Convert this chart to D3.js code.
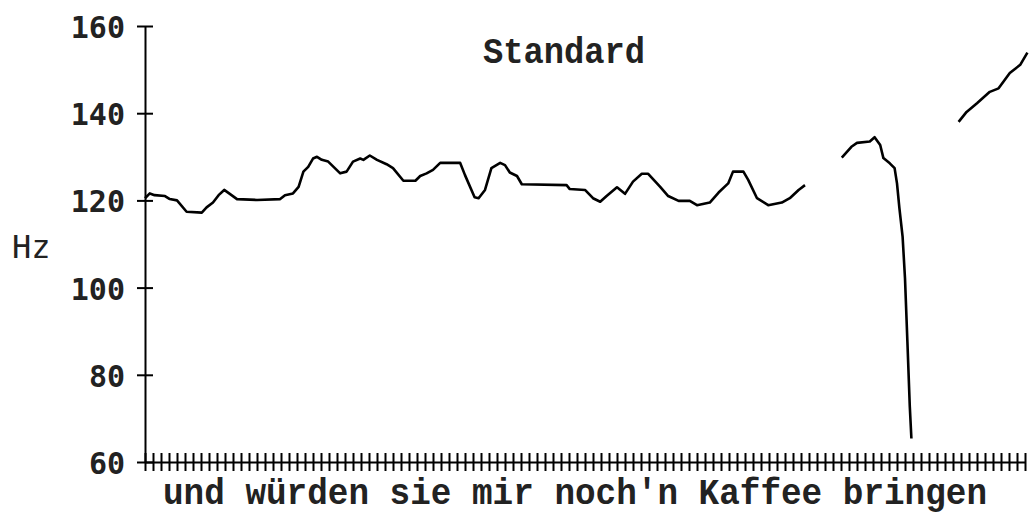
<!DOCTYPE html>
<html>
<head>
<meta charset="utf-8">
<script src="https://cdn.jsdelivr.net/npm/d3@7"></script>
<style>
  body { margin: 0; background: #fff; }
</style>
</head>
<body>
<div id="chart"></div>
<script>
// Grundfrequenz (Hz) ueber Zeit (ms), drei stimmhafte Abschnitte
const seg1Time = [0, 6, 12, 25, 31, 40, 52, 71, 77, 85, 92, 99, 106, 115, 140, 169, 175, 185, 192, 198,
  204, 210, 215, 221, 229, 244, 252, 260, 269, 273, 281, 290, 302, 310, 323, 338, 344, 352, 360, 369,
  394, 400, 412, 417, 425, 433, 444, 450, 456, 465, 471, 527, 531, 550, 560, 569, 577, 590, 600, 610,
  621, 629, 644, 654, 667, 681, 690, 706, 717, 729, 735, 748, 754, 765, 779, 796, 806, 817, 825];
const seg1Hz = [120.5, 121.6, 121.2, 121, 120.3, 120, 117.4, 117.2, 118.4, 119.5, 121.2, 122.4, 121.5, 120.3, 120.1, 120.3, 121.2, 121.6, 123.1, 126.6,
  127.7, 129.6, 130, 129.3, 128.9, 126.2, 126.6, 128.9, 129.6, 129.3, 130.3, 129.3, 128.3, 127.4, 124.5, 124.5, 125.6, 126.2, 127, 128.6,
  128.6, 125.8, 120.7, 120.5, 122.4, 127.4, 128.6, 128.1, 126.4, 125.6, 123.7, 123.5, 122.6, 122.4, 120.5, 119.7, 121, 123, 121.5, 124.3,
  126.1, 126.1, 123.1, 121, 119.9, 119.9, 118.9, 119.5, 121.8, 123.9, 126.6, 126.6, 124.7, 120.5, 118.9, 119.5, 120.5, 122.4, 123.5];

const seg2Time = [871, 883, 890, 906, 912, 919, 923, 931, 937, 940, 943, 947, 950, 953, 956, 958];
const seg2Hz = [129.8, 132.3, 133.2, 133.5, 134.5, 132.7, 129.7, 128.5, 127.4, 123.9, 118.2, 111.7, 102.1, 87.6, 72.7, 65.4];

const seg3Time = [1017, 1027, 1040, 1056, 1067, 1081, 1094, 1103];
const seg3Hz = [138, 140.3, 142.3, 144.9, 145.7, 149.2, 151.1, 153.9];

const yTicks = [60, 80, 100, 120, 140, 160];
const frameTicks = d3.range(0, 1101, 10);

const title = "Standard";
const yLabel = "Hz";
const sentence = "und würden sie mir noch'n Kaffee bringen";

const width = 1030, height = 515;
const margin = { top: 26, right: 5, bottom: 53, left: 145 };

const svg = d3.select('#chart')
  .append('svg')
  .attr('width', width)
  .attr('height', height);

const x = d3.scaleLinear()
  .domain([0, 1100])
  .range([margin.left, width - margin.right]);

const y = d3.scaleLinear()
  .domain([60, 160])
  .range([height - margin.bottom, margin.top]);

// y-Achse, Striche nach beiden Seiten
const yAxis = svg.append('g')
  .attr('transform', `translate(${margin.left},0)`)
  .call(d3.axisLeft(y).tickValues(yTicks).tickSizeOuter(0).tickPadding(20));
yAxis.select('.domain').attr('stroke-width', 2);
yAxis.selectAll('.tick line').attr('x1', -8).attr('x2', 8).attr('stroke-width', 2);
yAxis.selectAll('.tick text')
  .attr('x', -20)
  .attr('dy', '0.38em')
  .style('font-family', '"DejaVu Sans Mono", monospace')
  .style('font-weight', 'bold')
  .style('font-size', '30px')
  .attr('fill', '#222');

// x-Achse mit Rahmenstrichen
const xAxis = svg.append('g')
  .attr('transform', `translate(0,${y(60)})`)
  .call(d3.axisBottom(x).tickValues(frameTicks).tickSizeOuter(0).tickFormat(''));
xAxis.select('.domain').attr('stroke-width', 2);
xAxis.selectAll('.tick line').attr('y1', -9).attr('y2', 9).attr('stroke-width', 2);

// F0-Kontur
const line = d3.line()
  .x(d => x(d[0]))
  .y(d => y(d[1]));

const segmente = [
  d3.zip(seg1Time, seg1Hz),
  d3.zip(seg2Time, seg2Hz),
  d3.zip(seg3Time, seg3Hz)
];

svg.append('g')
  .selectAll('path')
  .data(segmente)
  .join('path')
  .attr('d', line)
  .attr('fill', 'none')
  .attr('stroke', '#000')
  .attr('stroke-width', 2.6)
  .attr('stroke-linejoin', 'round');

// Texte
svg.append('text')
  .attr('x', 483)
  .attr('y', 63)
  .attr('textLength', 162)
  .attr('lengthAdjust', 'spacingAndGlyphs')
  .style('font-family', '"Liberation Mono", monospace')
  .style('font-weight', 'bold')
  .style('font-size', '37px')
  .attr('fill', '#222')
  .text(title);

svg.append('text')
  .attr('x', 12)
  .attr('y', 258)
  .style('font-family', '"DejaVu Sans Mono", monospace')
  .style('font-size', '32px')
  .attr('fill', '#222')
  .text(yLabel);

svg.append('text')
  .attr('x', 163)
  .attr('y', 504)
  .attr('textLength', 824)
  .attr('lengthAdjust', 'spacingAndGlyphs')
  .style('font-family', '"Liberation Mono", monospace')
  .style('font-weight', 'bold')
  .style('font-size', '36px')
  .attr('fill', '#222')
  .text(sentence);
</script>
</body>
</html>
